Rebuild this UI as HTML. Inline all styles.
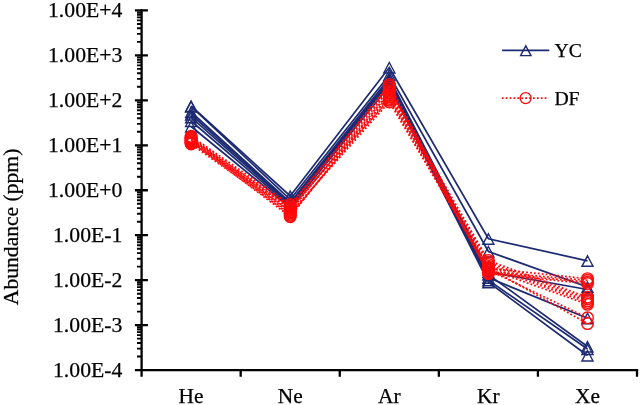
<!DOCTYPE html>
<html><head><meta charset="utf-8"><title>Noble gas abundance</title>
<style>
html,body{margin:0;padding:0;background:#fff}
body{width:640px;height:405px;overflow:hidden}
svg{display:block}
text{font-family:"Liberation Serif","Times New Roman",serif;fill:#000;stroke:#000;stroke-width:0.25px}
</style></head><body>
<svg width="640" height="405" viewBox="0 0 640 405">
<rect width="640" height="405" fill="#fff"/>
<g stroke="#000" stroke-width="2.3" fill="none" stroke-linecap="butt">
<path d="M141.6 9.3V376.70000000000005"/>
<path d="M134.9 370.1H638.15"/>
<path d="M240.68 370.1V376.70000000000005M339.76 370.1V376.70000000000005M438.84 370.1V376.70000000000005M537.92 370.1V376.70000000000005M637.00 370.1V376.70000000000005"/>
<path d="M134.9 10.40H147.9M134.9 55.36H147.9M134.9 100.33H147.9M134.9 145.29H147.9M134.9 190.25H147.9M134.9 235.21H147.9M134.9 280.18H147.9M134.9 325.14H147.9"/>
</g>
<path d="M137.0 41.83H141.6M137.0 33.91H141.6M137.0 28.29H141.6M137.0 23.94H141.6M137.0 20.37H141.6M137.0 17.36H141.6M137.0 14.76H141.6M137.0 12.46H141.6M137.0 86.79H141.6M137.0 78.87H141.6M137.0 73.25H141.6M137.0 68.90H141.6M137.0 65.34H141.6M137.0 62.33H141.6M137.0 59.72H141.6M137.0 57.42H141.6M137.0 131.75H141.6M137.0 123.83H141.6M137.0 118.22H141.6M137.0 113.86H141.6M137.0 110.30H141.6M137.0 107.29H141.6M137.0 104.68H141.6M137.0 102.38H141.6M137.0 176.71H141.6M137.0 168.80H141.6M137.0 163.18H141.6M137.0 158.82H141.6M137.0 155.26H141.6M137.0 152.25H141.6M137.0 149.64H141.6M137.0 147.34H141.6M137.0 221.68H141.6M137.0 213.76H141.6M137.0 208.14H141.6M137.0 203.79H141.6M137.0 200.22H141.6M137.0 197.21H141.6M137.0 194.61H141.6M137.0 192.31H141.6M137.0 266.64H141.6M137.0 258.72H141.6M137.0 253.10H141.6M137.0 248.75H141.6M137.0 245.19H141.6M137.0 242.18H141.6M137.0 239.57H141.6M137.0 237.27H141.6M137.0 311.60H141.6M137.0 303.68H141.6M137.0 298.07H141.6M137.0 293.71H141.6M137.0 290.15H141.6M137.0 287.14H141.6M137.0 284.53H141.6M137.0 282.23H141.6M137.0 356.56H141.6M137.0 348.65H141.6M137.0 343.03H141.6M137.0 338.67H141.6M137.0 335.11H141.6M137.0 332.10H141.6M137.0 329.49H141.6M137.0 327.19H141.6" stroke="#000" stroke-width="1.9" fill="none"/>
<g font-size="21.7" text-anchor="end">
<text x="122.3" y="17.4">1.00E+4</text>
<text x="122.3" y="62.4">1.00E+3</text>
<text x="122.3" y="107.3">1.00E+2</text>
<text x="122.3" y="152.3">1.00E+1</text>
<text x="122.3" y="197.3">1.00E+0</text>
<text x="122.3" y="242.2">1.00E-1</text>
<text x="122.3" y="287.2">1.00E-2</text>
<text x="122.3" y="332.1">1.00E-3</text>
<text x="122.3" y="377.1">1.00E-4</text>
</g>
<g font-size="21.4" text-anchor="middle">
<text x="191.1" y="402.9">He</text>
<text x="290.2" y="402.9">Ne</text>
<text x="389.3" y="402.9">Ar</text>
<text x="488.4" y="402.9">Kr</text>
<text x="587.5" y="402.9">Xe</text>
</g>
<text font-size="21.6" text-anchor="middle" transform="translate(18.4 226.9) rotate(-90)">Abundance (ppm)</text>
<g stroke="#1c2a72" stroke-width="1.7" fill="none" stroke-linejoin="miter">
<polyline points="191.1,106.0 290.2,196.0 389.3,67.5 488.4,238.8 587.5,260.8"/>
<path d="M191.1 101.0L196.7 111.5H185.6ZM290.2 191.0L295.8 201.5H284.7ZM389.3 62.5L394.9 73.0H383.7ZM488.4 233.8L493.9 244.3H482.8ZM587.5 255.8L593.0 266.3H581.9Z" stroke-width="1.4"/>
<polyline points="191.1,106.5 290.2,199.5 389.3,75.0 488.4,251.5 587.5,287.0"/>
<path d="M191.1 101.5L196.7 112.0H185.6ZM290.2 194.5L295.8 205.0H284.7ZM389.3 70.0L394.9 80.5H383.7ZM488.4 246.5L493.9 257.0H482.8ZM587.5 282.0L593.0 292.5H581.9Z" stroke-width="1.4"/>
<polyline points="191.1,112.0 290.2,202.5 389.3,78.0 488.4,272.0 587.5,289.5"/>
<path d="M191.1 107.0L196.7 117.5H185.6ZM290.2 197.5L295.8 208.0H284.7ZM389.3 73.0L394.9 83.5H383.7ZM488.4 267.0L493.9 277.5H482.8ZM587.5 284.5L593.0 295.0H581.9Z" stroke-width="1.4"/>
<polyline points="191.1,114.5 290.2,203.5 389.3,80.0 488.4,277.7 587.5,318.2"/>
<path d="M191.1 109.5L196.7 120.0H185.6ZM290.2 198.5L295.8 209.0H284.7ZM389.3 75.0L394.9 85.5H383.7ZM488.4 272.7L493.9 283.2H482.8ZM587.5 313.2L593.0 323.7H581.9Z" stroke-width="1.4"/>
<polyline points="191.1,117.3 290.2,204.5 389.3,81.5 488.4,274.6 587.5,346.5"/>
<path d="M191.1 112.3L196.7 122.8H185.6ZM290.2 199.5L295.8 210.0H284.7ZM389.3 76.5L394.9 87.0H383.7ZM488.4 269.6L493.9 280.1H482.8ZM587.5 341.5L593.0 352.0H581.9Z" stroke-width="1.4"/>
<polyline points="191.1,121.0 290.2,206.0 389.3,83.0 488.4,280.2 587.5,349.0"/>
<path d="M191.1 116.0L196.7 126.5H185.6ZM290.2 201.0L295.8 211.5H284.7ZM389.3 78.0L394.9 88.5H383.7ZM488.4 275.2L493.9 285.7H482.8ZM587.5 344.0L593.0 354.5H581.9Z" stroke-width="1.4"/>
<polyline points="191.1,126.5 290.2,207.5 389.3,86.0 488.4,282.2 587.5,355.5"/>
<path d="M191.1 121.5L196.7 132.0H185.6ZM290.2 202.5L295.8 213.0H284.7ZM389.3 81.0L394.9 91.5H383.7ZM488.4 277.2L493.9 287.7H482.8ZM587.5 350.5L593.0 361.0H581.9Z" stroke-width="1.4"/>
</g>
<g stroke="#ff0a0a" fill="none">
<polyline points="191.1,139.4 290.2,205.7 389.3,84.5 488.4,268.3 587.5,278.7" stroke-width="1.75" stroke-dasharray="1.8 2.1" stroke-dashoffset="0.00"/>
<circle cx="191.1" cy="139.4" r="5.8" stroke-width="1.4"/>
<circle cx="290.2" cy="205.7" r="5.8" stroke-width="1.4"/>
<circle cx="389.3" cy="84.5" r="5.8" stroke-width="1.4"/>
<circle cx="488.4" cy="268.3" r="5.8" stroke-width="1.4"/>
<circle cx="587.5" cy="278.7" r="5.8" stroke-width="1.4"/>
<polyline points="191.1,136.3 290.2,204.5 389.3,88.0 488.4,271.7 587.5,280.3" stroke-width="1.75" stroke-dasharray="1.8 2.1" stroke-dashoffset="1.45"/>
<circle cx="191.1" cy="136.3" r="5.8" stroke-width="1.4"/>
<circle cx="290.2" cy="204.5" r="5.8" stroke-width="1.4"/>
<circle cx="389.3" cy="88.0" r="5.8" stroke-width="1.4"/>
<circle cx="488.4" cy="271.7" r="5.8" stroke-width="1.4"/>
<circle cx="587.5" cy="280.3" r="5.8" stroke-width="1.4"/>
<polyline points="191.1,141.7 290.2,216.7 389.3,91.5 488.4,273.0 587.5,282.0" stroke-width="1.75" stroke-dasharray="1.8 2.1" stroke-dashoffset="2.90"/>
<circle cx="191.1" cy="141.7" r="5.8" stroke-width="1.4"/>
<circle cx="290.2" cy="216.7" r="5.8" stroke-width="1.4"/>
<circle cx="389.3" cy="91.5" r="5.8" stroke-width="1.4"/>
<circle cx="488.4" cy="273.0" r="5.8" stroke-width="1.4"/>
<circle cx="587.5" cy="282.0" r="5.8" stroke-width="1.4"/>
<polyline points="191.1,137.8 290.2,211.8 389.3,86.2 488.4,273.6 587.5,283.6" stroke-width="1.75" stroke-dasharray="1.8 2.1" stroke-dashoffset="0.45"/>
<circle cx="191.1" cy="137.8" r="5.8" stroke-width="1.4"/>
<circle cx="290.2" cy="211.8" r="5.8" stroke-width="1.4"/>
<circle cx="389.3" cy="86.2" r="5.8" stroke-width="1.4"/>
<circle cx="488.4" cy="273.6" r="5.8" stroke-width="1.4"/>
<circle cx="587.5" cy="283.6" r="5.8" stroke-width="1.4"/>
<polyline points="191.1,143.2 290.2,210.6 389.3,89.7 488.4,260.6 587.5,297.2" stroke-width="1.75" stroke-dasharray="1.8 2.1" stroke-dashoffset="1.90"/>
<circle cx="191.1" cy="143.2" r="5.8" stroke-width="1.4"/>
<circle cx="290.2" cy="210.6" r="5.8" stroke-width="1.4"/>
<circle cx="389.3" cy="89.7" r="5.8" stroke-width="1.4"/>
<circle cx="488.4" cy="260.6" r="5.8" stroke-width="1.4"/>
<circle cx="587.5" cy="297.2" r="5.8" stroke-width="1.4"/>
<polyline points="191.1,140.2 290.2,209.4 389.3,93.2 488.4,262.5 587.5,299.0" stroke-width="1.75" stroke-dasharray="1.8 2.1" stroke-dashoffset="3.35"/>
<circle cx="191.1" cy="140.2" r="5.8" stroke-width="1.4"/>
<circle cx="290.2" cy="209.4" r="5.8" stroke-width="1.4"/>
<circle cx="389.3" cy="93.2" r="5.8" stroke-width="1.4"/>
<circle cx="488.4" cy="262.5" r="5.8" stroke-width="1.4"/>
<circle cx="587.5" cy="299.0" r="5.8" stroke-width="1.4"/>
<polyline points="191.1,137.1 290.2,208.2 389.3,96.7 488.4,264.5 587.5,300.8" stroke-width="1.75" stroke-dasharray="1.8 2.1" stroke-dashoffset="0.90"/>
<circle cx="191.1" cy="137.1" r="5.8" stroke-width="1.4"/>
<circle cx="290.2" cy="208.2" r="5.8" stroke-width="1.4"/>
<circle cx="389.3" cy="96.7" r="5.8" stroke-width="1.4"/>
<circle cx="488.4" cy="264.5" r="5.8" stroke-width="1.4"/>
<circle cx="587.5" cy="300.8" r="5.8" stroke-width="1.4"/>
<polyline points="191.1,144.0 290.2,214.3 389.3,98.4 488.4,266.5 587.5,302.6" stroke-width="1.75" stroke-dasharray="1.8 2.1" stroke-dashoffset="2.35"/>
<circle cx="191.1" cy="144.0" r="5.8" stroke-width="1.4"/>
<circle cx="290.2" cy="214.3" r="5.8" stroke-width="1.4"/>
<circle cx="389.3" cy="98.4" r="5.8" stroke-width="1.4"/>
<circle cx="488.4" cy="266.5" r="5.8" stroke-width="1.4"/>
<circle cx="587.5" cy="302.6" r="5.8" stroke-width="1.4"/>
<polyline points="191.1,138.6 290.2,215.5 389.3,94.9 488.4,269.0 587.5,304.3" stroke-width="1.75" stroke-dasharray="1.8 2.1" stroke-dashoffset="3.80"/>
<circle cx="191.1" cy="138.6" r="5.8" stroke-width="1.4"/>
<circle cx="290.2" cy="215.5" r="5.8" stroke-width="1.4"/>
<circle cx="389.3" cy="94.9" r="5.8" stroke-width="1.4"/>
<circle cx="488.4" cy="269.0" r="5.8" stroke-width="1.4"/>
<circle cx="587.5" cy="304.3" r="5.8" stroke-width="1.4"/>
<polyline points="191.1,142.5 290.2,206.9 389.3,100.2 488.4,270.0 587.5,317.8" stroke-width="1.75" stroke-dasharray="1.8 2.1" stroke-dashoffset="1.35"/>
<circle cx="191.1" cy="142.5" r="5.8" stroke-width="1.4"/>
<circle cx="290.2" cy="206.9" r="5.8" stroke-width="1.4"/>
<circle cx="389.3" cy="100.2" r="5.8" stroke-width="1.4"/>
<circle cx="488.4" cy="270.0" r="5.8" stroke-width="1.4"/>
<circle cx="587.5" cy="317.8" r="5.8" stroke-width="1.4"/>
<polyline points="191.1,140.9 290.2,213.0 389.3,101.9 488.4,267.8 587.5,323.6" stroke-width="1.75" stroke-dasharray="1.8 2.1" stroke-dashoffset="2.80"/>
<circle cx="191.1" cy="140.9" r="5.8" stroke-width="1.4"/>
<circle cx="290.2" cy="213.0" r="5.8" stroke-width="1.4"/>
<circle cx="389.3" cy="101.9" r="5.8" stroke-width="1.4"/>
<circle cx="488.4" cy="267.8" r="5.8" stroke-width="1.4"/>
<circle cx="587.5" cy="323.6" r="5.8" stroke-width="1.4"/>
</g>
<g stroke="#1c2a72" fill="none"><path d="M502.1 50.4H549.3" stroke-width="1.6"/><path d="M525.8 45.8L531.0 55.6H520.6Z" stroke-width="1.4"/></g>
<g stroke="#ff0a0a" fill="none"><path d="M501.8 98.1H546.5" stroke-width="1.75" stroke-dasharray="1.8 2.1"/><circle cx="525.6" cy="98.1" r="5.5" stroke-width="1.3"/></g>
<text font-size="19.7" x="554.6" y="56.8">YC</text>
<text font-size="19.7" x="554.4" y="104.5">DF</text>
</svg>
</body></html>
